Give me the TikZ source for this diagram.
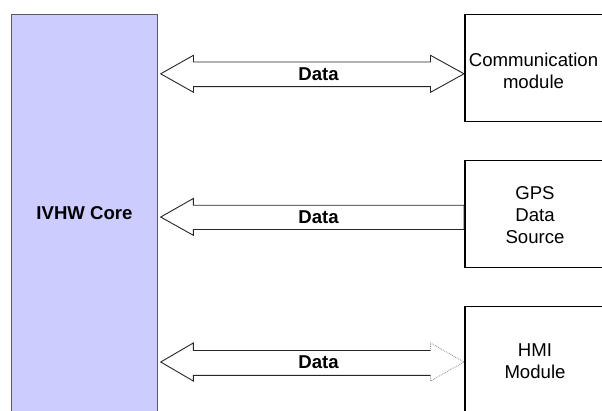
\documentclass[tikz,border=0pt]{standalone}
\usepackage{fontspec}
\setmainfont{Liberation Sans}
\usetikzlibrary{calc}
\definecolor{corefill}{RGB}{204,204,255}
\definecolor{coreedge}{RGB}{90,90,100}
\begin{document}
\begin{tikzpicture}[x=1pt,y=-1pt,
  corebox/.style={draw=coreedge,line width=0.9pt,fill=corefill},
  modbox/.style={draw=black,line width=1.2pt},
  arrowline/.style={draw=black!85,line width=0.9pt,line join=miter},
  dotline/.style={draw=black!45,line width=0.8pt,densely dotted},
  lbl/.style={font=\fontsize{18.6}{21.7}\selectfont\bfseries,inner sep=0pt},
  modtxt/.style={font=\fontsize{18.6}{21.7}\selectfont,align=center,inner sep=0pt}]
\useasboundingbox (0,0) rectangle (602,410);
% blocks
\path[corebox] (11.5,14.3) rectangle (157.3,425);
\node[lbl] (core) at (84.5,213.5) {IVHW Core};
\path[modbox] (465,14.3) rectangle (615,121.7);
\path[modbox] (465,160.3) rectangle (615,267.5);
\path[modbox] (465,306.5) rectangle (615,425);
\node[modtxt] (comm) at (533.5,71) {Communication\\module};
\node[modtxt] (gps) at (535,215) {GPS\\Data\\Source};
\node[modtxt] (hmi) at (535,361) {HMI\\Module};
% arrow 1
\coordinate (aL) at (160.7,73.8);
\coordinate (aR) at (464,73.8);
\draw[arrowline] (aL) -- ($(aL)+(32.8,-18.5)$) -- ($(aL)+(32.8,-11.8)$)
  -- ($(aR)+(-33.5,-11.8)$) -- ($(aR)+(-33.5,-18.5)$) -- (aR)
  -- ($(aR)+(-33.5,18.5)$) -- ($(aR)+(-33.5,12.8)$)
  -- ($(aL)+(32.8,12.8)$) -- ($(aL)+(32.8,18.5)$) -- cycle;
\node[lbl] (d1) at (318.6,74) {Data};
% arrow 2
\coordinate (bL) at (160.7,217);
\coordinate (bR) at (464,217);
\draw[arrowline] (bL) -- ($(bL)+(32.6,-18.5)$) -- ($(bL)+(32.6,-11.8)$)
  -- ($(bR)+(0,-11.8)$) -- ($(bR)+(0,12.5)$)
  -- ($(bL)+(32.6,12.5)$) -- ($(bL)+(32.6,18.3)$) -- cycle;
\node[lbl] (d2) at (318.6,217) {Data};
% arrow 3
\coordinate (cL) at (160.7,362);
\coordinate (cR) at (464,362);
\draw[arrowline] ($(cR)+(-33.5,-11.5)$) -- ($(cL)+(32.6,-11.5)$)
  -- ($(cL)+(32.6,-19)$) -- (cL) -- ($(cL)+(32.6,19)$)
  -- ($(cL)+(32.6,13.3)$) -- ($(cR)+(-33.5,13.3)$);
\draw[dotline] ($(cR)+(-33.5,-11.5)$) -- ($(cR)+(-33.5,-19)$) -- (cR)
  -- ($(cR)+(-33.5,19)$) -- ($(cR)+(-33.5,13.3)$);
\node[lbl] (d3) at (318.6,362) {Data};
\end{tikzpicture}
\end{document}
